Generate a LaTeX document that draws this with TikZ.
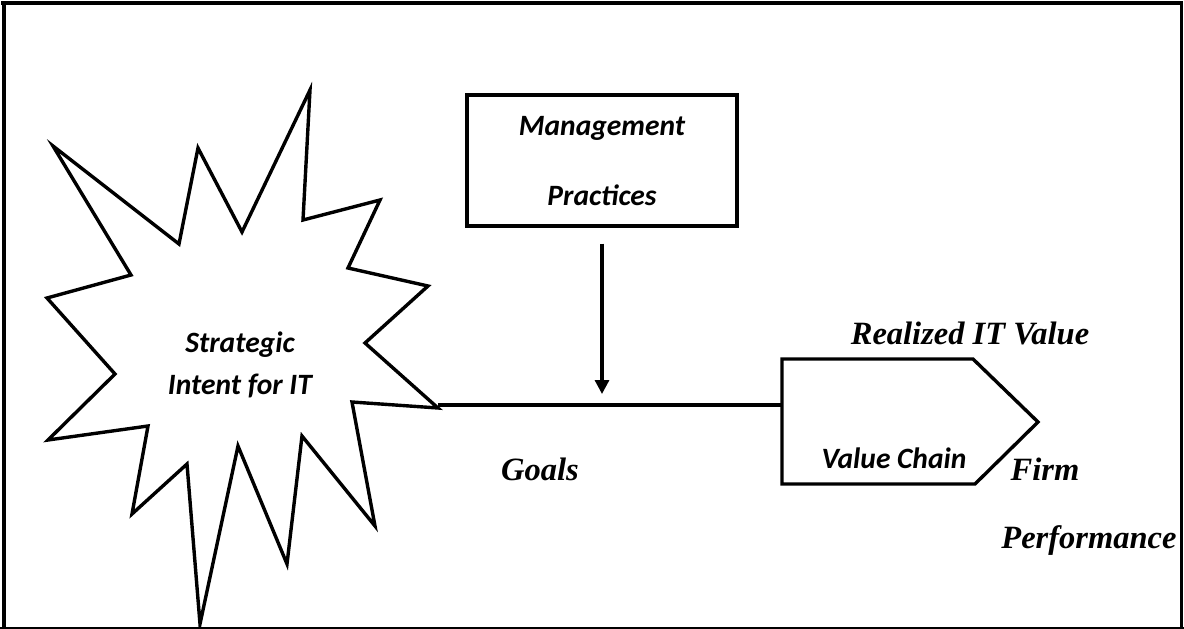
\documentclass[tikz,border=0pt]{standalone}
\usepackage{fontspec}
\setmainfont{Liberation Serif}
\newfontfamily\calib{Carlito}
\usetikzlibrary{arrows.meta}
\tikzset{
  thick3/.style={line width=3.4pt, line join=miter},
  sanslab/.style={font=\calib\bfseries\itshape\fontsize{29.5}{35}\selectfont, inner sep=0pt},
  seriflab/.style={font=\bfseries\itshape\fontsize{32.5}{39}\selectfont, inner sep=0pt},
  arr/.style={line width=3.2pt, -{Triangle[length=14pt,width=14pt]}},
}
\begin{document}
\begin{tikzpicture}[x=1pt,y=-1pt]
\useasboundingbox (0,0) rectangle (1184,629);
% frame
\draw[line width=3.5pt] (1,3) -- (1182,3);
\draw[line width=4pt] (4,1) -- (4,629);
\draw[line width=3pt] (1181.5,1) -- (1181.5,629);
\draw[line width=1.2pt] (0,628) -- (1184,628);
% starburst
\draw[thick3] (310,90) -- (303,220) -- (380,200) -- (348,268) -- (428,286) -- (365,343)
  -- (438,408) -- (352,402) -- (375,526) -- (302,436) -- (287,564) -- (238,446)
  -- (200,624) -- (187,464) -- (132,514) -- (148,426) -- (48,440) -- (115,374)
  -- (47,298) -- (131,275) -- (53,146) -- (179,244) -- (198,148) -- (242,232) -- cycle;
\coordinate (sbtip) at (438,405);
\node[sanslab] (st1) at (240,345) {Strategic};
\node[sanslab] (st2) at (240,386) {Intent for IT};
% management box
\node[draw, line width=3.4pt, minimum width=270pt, minimum height=131pt, inner sep=0pt] (mp) at (602,160.5) {};
\node[sanslab] (mp1) at (602,128) {Management};
\node[sanslab] (mp2) at (602,195) {Practices};
% value chain pentagon
\coordinate (vcl) at (782,405);
\draw[thick3] (782,359) -- (973,359) -- (1038,422) -- (975,484) -- (782,484) -- cycle;
\node[sanslab] (vc) at (894,458) {Value Chain};
% connectors
\draw[line width=3.2pt] (sbtip) -- (vcl);
\coordinate (join) at (602,405);
\draw[arr, shorten <=16pt, shorten >=11pt] (mp.south) -- (join);
% serif labels
\node[seriflab] (riv) at (970,333) {Realized IT Value};
\node[seriflab] (goals) at (540,469) {Goals};
\node[seriflab] (firm) at (1045,469) {Firm};
\node[seriflab] (perf) at (1089,541) {Performance};
\end{tikzpicture}
\end{document}
